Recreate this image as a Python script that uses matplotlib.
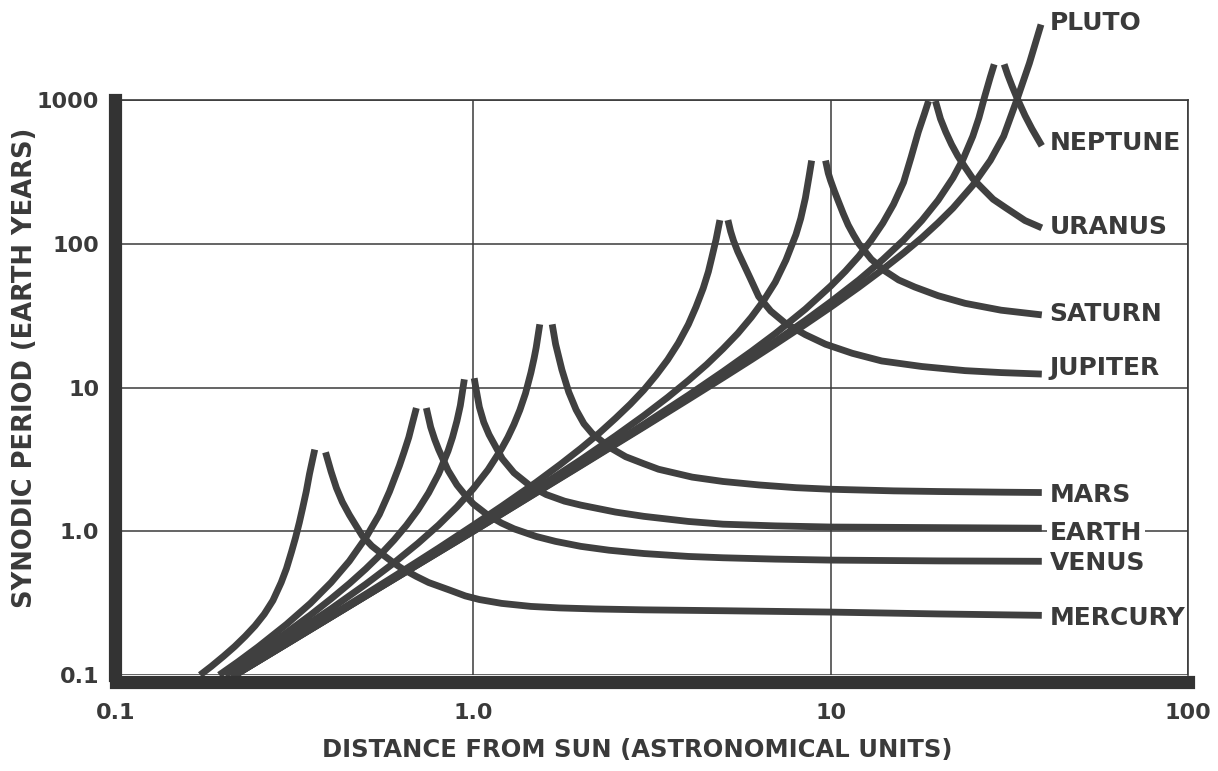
import matplotlib
matplotlib.use("Agg")
import matplotlib.pyplot as plt

# ---------------- data ----------------
# distance from sun (AU) / synodic period (earth years)
# each planet: inner branch (left of its peak) and outer branch (right of its peak)
mercury_in_x = [0.172, 0.185, 0.20, 0.215, 0.23, 0.245, 0.26, 0.275, 0.29, 0.30, 0.31, 0.318,
                0.326, 0.333, 0.341, 0.348, 0.354, 0.360]
mercury_in_y = [0.10, 0.115, 0.135, 0.158, 0.186, 0.22, 0.265, 0.33, 0.44, 0.55, 0.72, 0.90,
                1.15, 1.45, 1.9, 2.5, 3.05, 3.7]
mercury_out_x = [0.386, 0.40, 0.414, 0.43, 0.45, 0.47, 0.489, 0.52, 0.557, 0.60, 0.632, 0.693,
                 0.75, 0.858, 0.95, 1.04, 1.2, 1.45, 1.74, 2.2, 3.0, 5.0, 10, 20, 39]
mercury_out_y = [3.54, 2.6, 2.0, 1.6, 1.30, 1.09, 0.93, 0.79, 0.69, 0.60, 0.55, 0.485,
                 0.44, 0.39, 0.355, 0.335, 0.315, 0.30, 0.293, 0.288, 0.284, 0.28, 0.274, 0.266, 0.26]

venus_in_x = [0.1945, 0.22, 0.25, 0.30, 0.35, 0.40, 0.45, 0.50, 0.546, 0.583, 0.621, 0.64,
              0.66, 0.675, 0.693]
venus_in_y = [0.10, 0.124, 0.157, 0.225, 0.315, 0.44, 0.62, 0.90, 1.31, 1.89, 2.85, 3.55,
              4.5, 5.6, 7.2]
venus_out_x = [0.739, 0.76, 0.78, 0.80, 0.85, 0.90, 0.95, 1.0, 1.1, 1.2, 1.3, 1.5, 1.7, 2.0,
               2.4, 3.0, 4.0, 5.0, 7.0, 10, 20, 39]
venus_out_y = [7.2, 5.3, 4.35, 3.7, 2.65, 2.1, 1.78, 1.55, 1.29, 1.14, 1.04, 0.92, 0.85, 0.785,
               0.738, 0.70, 0.668, 0.654, 0.64, 0.63, 0.622, 0.618]

earth_in_x = [0.202, 0.22, 0.25, 0.30, 0.35, 0.40, 0.45, 0.50, 0.55, 0.60, 0.65, 0.70, 0.75,
              0.80, 0.85, 0.875, 0.90, 0.92, 0.944]
earth_in_y = [0.10, 0.115, 0.143, 0.197, 0.261, 0.339, 0.4325, 0.547, 0.689, 0.868, 1.10, 1.41,
              1.85, 2.51, 3.62, 4.51, 5.85, 7.5, 11.4]
earth_out_x = [1.006, 1.02, 1.04, 1.07, 1.107, 1.205, 1.3, 1.45, 1.6, 1.8, 2.0, 2.5, 3.0, 4.0,
               5.0, 7.0, 10, 20, 39]
earth_out_y = [11.6, 9.5, 7.3, 5.73, 4.7, 3.2, 2.55, 2.05, 1.8, 1.62, 1.52, 1.36, 1.27, 1.17,
               1.12, 1.09, 1.07, 1.06, 1.05]

mars_in_x = [0.2086, 0.25, 0.30, 0.40, 0.50, 0.60, 0.70, 0.80, 0.90, 1.0, 1.1, 1.2, 1.25, 1.3,
             1.35, 1.4, 1.45, 1.48, 1.50, 1.52, 1.535]
mars_in_y = [0.10, 0.133, 0.179, 0.289, 0.428, 0.603, 0.824, 1.106, 1.477, 1.977, 2.68, 3.75,
             4.51, 5.54, 6.97, 9.1, 12.7, 16.0, 19.0, 23.5, 27.5]
mars_out_x = [1.663, 1.70, 1.77, 1.85, 1.94, 2.04, 2.15, 2.4, 2.67, 3.0, 3.3, 4.1, 5.0, 6.3,
              8.0, 10, 15, 20, 30, 39]
mars_out_y = [27.5, 20, 13.3, 9.3, 7.0, 5.6, 4.8, 3.85, 3.3, 2.95, 2.7, 2.38, 2.22, 2.1,
              2.01, 1.96, 1.91, 1.89, 1.87, 1.86]

jupiter_in_x = [0.214, 0.3, 0.4, 0.5, 0.6, 0.7, 0.8, 1.0, 1.2, 1.5, 1.75, 2.0, 2.25, 2.5,
                2.75, 3.0, 3.25, 3.5, 3.75, 4.0, 4.2, 4.4, 4.55, 4.65, 4.78, 4.9]
jupiter_in_y = [0.10, 0.167, 0.259, 0.365, 0.485, 0.618, 0.764, 1.1, 1.49, 2.19, 2.91, 3.77,
                4.81, 6.1, 7.65, 9.6, 12.2, 15.6, 20.4, 27.5, 36.3, 49, 64, 80, 107, 146]
jupiter_out_x = [5.16, 5.25, 5.35, 5.5, 5.64, 5.95, 6.29, 6.8, 7.47, 8.5, 9.68, 11.5, 13.9,
                 18, 23.8, 30, 39]
jupiter_out_y = [146, 122, 105, 88, 77, 58, 43, 34, 28, 23.3, 20, 17.3, 15.3, 14, 13.1,
                 12.7, 12.4]

saturn_in_x = [0.215, 0.3, 0.4, 0.5, 0.7, 1.0, 1.5, 2.0, 2.5, 3.0, 3.5, 4.0, 4.5, 5.0, 5.5,
               6.0, 6.5, 7.0, 7.5, 8.0, 8.25, 8.5, 8.7, 8.85]
saturn_in_y = [0.10, 0.165, 0.255, 0.358, 0.598, 1.04, 1.97, 3.14, 4.6, 6.37, 8.54, 11.2,
               14.45, 18.6, 23.8, 30.8, 40.3, 54, 77, 116, 150, 208, 292, 379]
saturn_out_x = [9.68, 9.85, 10.0, 10.25, 10.5, 10.85, 11.2, 11.6, 12.0, 13.0, 14.2, 15.5,
                17.2, 20, 23.8, 30, 39]
saturn_out_y = [379, 310, 275, 232, 199, 162, 135, 115, 100, 78, 64.6, 56, 50, 43.5, 38.5,
                34.5, 32]

uranus_in_x = [0.2154, 0.3, 0.5, 1.0, 1.5, 2.0, 3.0, 4.0, 5.0, 6.0, 7.0, 8.5, 10, 11, 12,
               13, 14, 15, 16, 16.8, 17.6, 18.3, 18.8]
uranus_in_y = [0.10, 0.165, 0.355, 1.01, 1.88, 2.93, 5.54, 8.84, 12.9, 17.8, 23.7, 35.1,
               50.7, 64.4, 82, 106, 139, 188, 267, 400, 600, 800, 984]
uranus_out_x = [19.65, 20.3, 21.0, 21.8, 22.7, 23.8, 25, 26.4, 28.5, 30.9, 35, 39]
uranus_out_y = [984, 740, 600, 491, 408, 340, 284, 247, 204, 178, 145, 129]

neptune_in_x = [0.2155, 0.3, 0.5, 1.0, 1.5, 2.0, 3.0, 4.0, 5.0, 6.0, 7.0, 8.5, 10, 12, 14,
                16, 18, 20, 22, 23.5, 25, 26, 27, 28, 28.7]
neptune_in_y = [0.10, 0.1645, 0.354, 1.0, 1.858, 2.88, 5.37, 8.42, 12.0, 16.2, 20.9, 29.3,
                39.4, 56, 77.6, 106, 145, 201, 287, 389, 559, 750, 1060, 1450, 1771]
neptune_out_x = [30.6, 31.3, 32.2, 33.2, 35, 36.6, 39]
neptune_out_y = [1771, 1500, 1250, 1041, 780, 630, 480]

pluto_in_x = [0.2155, 0.3, 0.5, 1.0, 1.5, 2.0, 3.0, 4.0, 5.0, 6.0, 7.0, 8.5, 10, 12, 14, 16,
              18, 20, 22, 25, 28, 30.5, 33.2, 36, 38.8]
pluto_in_y = [0.10, 0.164, 0.354, 1.0, 1.85, 2.86, 5.31, 8.27, 11.7, 15.6, 20.0, 27.5, 36.2,
              49.9, 66.4, 86.2, 110, 140, 177, 255, 380, 560, 1000, 1800, 3350]

planet_names = ["MERCURY", "VENUS", "EARTH", "MARS", "JUPITER", "SATURN", "URANUS", "NEPTUNE", "PLUTO"]
label_y = [0.251, 0.597, 0.98, 1.78, 13.6, 32.4, 131, 504, 3456]

x_ticks = [0.1, 1, 10, 100]
x_ticklabels = ["0.1", "1.0", "10", "100"]
y_ticks = [0.1, 1, 10, 100, 1000]
y_ticklabels = ["0.1", "1.0", "10", "100", "1000"]

x_title = "DISTANCE FROM SUN (ASTRONOMICAL UNITS)"
y_title = "SYNODIC PERIOD (EARTH YEARS)"

# ---------------- figure ----------------
INK = "#3a3a3a"
plt.rcParams["font.family"] = ["DejaVu Sans"]

fig = plt.figure(figsize=(12.18, 7.71), dpi=100)
ax = fig.add_axes([0.0952, 0.1245, 0.8801, 0.7458])
ax.set_xscale("log")
ax.set_yscale("log")
ax.set_xlim(0.1, 100)
ax.set_ylim(0.1, 1000)
ax.minorticks_off()

branches = [
    (mercury_in_x, mercury_in_y), (mercury_out_x, mercury_out_y),
    (venus_in_x, venus_in_y), (venus_out_x, venus_out_y),
    (earth_in_x, earth_in_y), (earth_out_x, earth_out_y),
    (mars_in_x, mars_in_y), (mars_out_x, mars_out_y),
    (jupiter_in_x, jupiter_in_y), (jupiter_out_x, jupiter_out_y),
    (saturn_in_x, saturn_in_y), (saturn_out_x, saturn_out_y),
    (uranus_in_x, uranus_in_y), (uranus_out_x, uranus_out_y),
    (neptune_in_x, neptune_in_y), (neptune_out_x, neptune_out_y),
    (pluto_in_x, pluto_in_y),
]
for bx, by in branches:
    ax.plot(bx, by, color="#404040", lw=4.9, solid_capstyle="butt",
            solid_joinstyle="round", clip_on=False, zorder=2)

# grid
ax.grid(True, which="major", color=INK, lw=1.1, zorder=1)
ax.set_axisbelow(True)

# spines
for s in ("top", "right"):
    ax.spines[s].set_linewidth(1.2)
    ax.spines[s].set_color(INK)
for s in ("left", "bottom"):
    ax.spines[s].set_linewidth(9.5)
    ax.spines[s].set_color("#333333")
    ax.spines[s].set_capstyle("projecting")
    ax.spines[s].set_zorder(3)
ax.spines["bottom"].set_position(("outward", 5))
ax.spines["left"].set_position(("outward", 1))

ax.set_xticks(x_ticks)
ax.set_xticklabels(x_ticklabels)
ax.set_yticks(y_ticks)
ax.set_yticklabels(y_ticklabels)
ax.tick_params(axis="both", length=0, labelsize=16, labelcolor=INK)
ax.tick_params(axis="x", pad=15)
ax.tick_params(axis="y", pad=11)
for t in ax.get_xticklabels() + ax.get_yticklabels():
    t.set_fontweight("bold")

# planet labels
for name, yv in zip(planet_names, label_y):
    kw = {}
    if name == "EARTH":
        kw["bbox"] = dict(facecolor="white", edgecolor="none", pad=2)
    ax.text(41.0, yv, name, fontsize=18, fontweight="bold", color=INK,
            ha="left", va="center", clip_on=False, zorder=4, **kw)

fig.text(0.523, 0.027, x_title, fontsize=17.5, fontweight="bold", color=INK,
         ha="center", va="center")
fig.text(0.0205, 0.523, y_title, fontsize=18.5, fontweight="bold", color=INK,
         ha="center", va="center", rotation=90)

fig.savefig("out.png", dpi=100, facecolor="white")
